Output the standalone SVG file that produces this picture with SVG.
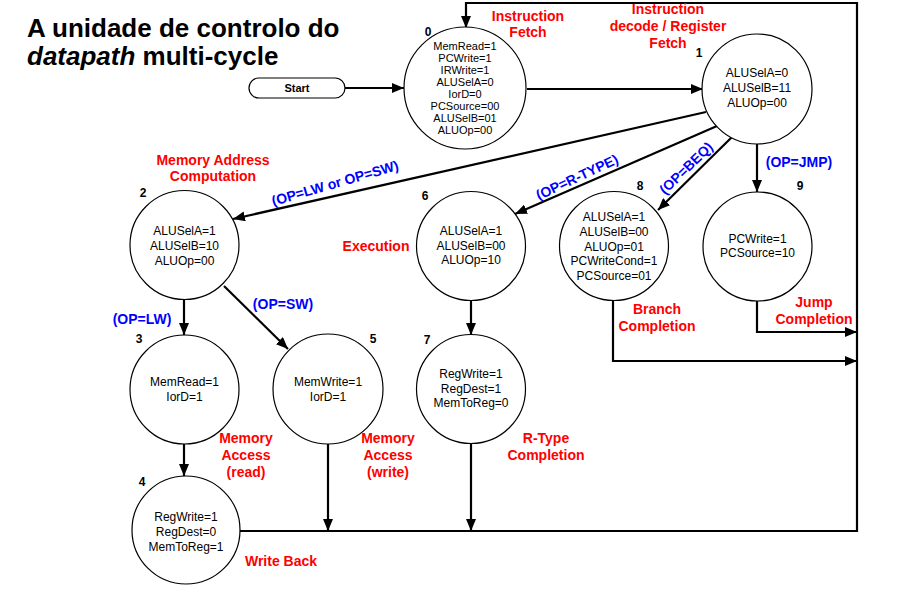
<svg xmlns="http://www.w3.org/2000/svg" width="924" height="591" viewBox="0 0 924 591">
<style>
text{font-family:"Liberation Sans",Arial,sans-serif;}
.st{font-size:12px;fill:#000;text-anchor:middle;}
.st0{font-size:11px;fill:#000;text-anchor:middle;}
.num{font-size:12px;font-weight:bold;fill:#000;text-anchor:middle;}
.red{font-size:14px;font-weight:bold;fill:#ff0000;text-anchor:middle;}
.blue{font-size:14px;font-weight:bold;fill:#0000ff;text-anchor:middle;}
.node{fill:#fff;stroke:#000;stroke-width:1.2;}
.conn{fill:none;stroke:#000;stroke-width:2.2;}
.title{font-size:26px;font-weight:bold;fill:#000;}
</style>
<defs>
<marker id="ah" viewBox="0 0 12 10" refX="12" refY="5" markerWidth="12" markerHeight="10" markerUnits="userSpaceOnUse" orient="auto">
<path d="M0,0 L12,5 L0,10 z" fill="#000"/>
</marker>
</defs>
<rect width="924" height="591" fill="#fff"/>
<g id="title">
<text class="title" x="27" y="37">A unidade de controlo do</text>
<text class="title" x="27" y="65"><tspan font-style="italic">datapath</tspan> multi-cycle</text>
</g>
<g id="connectors">
<path class="conn" d="M345,88 L404,88" marker-end="url(#ah)"/>
<path class="conn" d="M527,89 L703,89" marker-end="url(#ah)"/>
<path class="conn" d="M240,531 L857,531 L857,3 L466,3 L466,28" marker-end="url(#ah)"/>
<path class="conn" d="M706,112 L233,219" marker-end="url(#ah)"/>
<path class="conn" d="M717,126 L515,214" marker-end="url(#ah)"/>
<path class="conn" d="M732,137 L658,210" marker-end="url(#ah)"/>
<path class="conn" d="M757,144 L757,192" marker-end="url(#ah)"/>
<path class="conn" d="M184,299 L184,335" marker-end="url(#ah)"/>
<path class="conn" d="M224,286 L288,349" marker-end="url(#ah)"/>
<path class="conn" d="M471,300 L471,335" marker-end="url(#ah)"/>
<path class="conn" d="M184,444 L184,476" marker-end="url(#ah)"/>
<path class="conn" d="M328,443 L328,531" marker-end="url(#ah)"/>
<path class="conn" d="M471,443 L471,531" marker-end="url(#ah)"/>
<path class="conn" d="M613,300 L613,361 L857,361" marker-end="url(#ah)"/>
<path class="conn" d="M757,301 L757,332 L857,332" marker-end="url(#ah)"/>
<text class="blue" transform="translate(335,183) rotate(-16)" y="5">(OP=LW or OP=SW)</text>
<text class="blue" transform="translate(577,177) rotate(-25)" y="5">(OP=R-TYPE)</text>
<text class="blue" transform="translate(686,168) rotate(-44)" y="5">(OP=BEQ)</text>
<text class="blue" x="799" y="167">(OP=JMP)</text>
<text class="blue" x="142" y="324">(OP=LW)</text>
<text class="blue" x="283" y="309">(OP=SW)</text>
</g>
<g id="start">
<rect x="249" y="78" width="96" height="20" rx="10" ry="10" class="node"/>
<text class="num" x="297" y="92" style="font-size:11px">Start</text>
</g>
<g id="state0">
<circle class="node" cx="465" cy="88" r="61"/>
<text class="num" x="428" y="36">0</text>
<text class="st0" x="465" y="50">MemRead=1</text>
<text class="st0" x="465" y="62">PCWrite=1</text>
<text class="st0" x="465" y="74">IRWrite=1</text>
<text class="st0" x="465" y="86">ALUSelA=0</text>
<text class="st0" x="465" y="98">IorD=0</text>
<text class="st0" x="465" y="110">PCSource=00</text>
<text class="st0" x="465" y="122">ALUSelB=01</text>
<text class="st0" x="465" y="134">ALUOp=00</text>
<text class="red" x="528" y="21">Instruction</text>
<text class="red" x="528" y="37">Fetch</text>
</g>
<g id="state1">
<circle class="node" cx="757" cy="89" r="55"/>
<text class="num" x="699" y="57">1</text>
<text class="st" x="757" y="77">ALUSelA=0</text>
<text class="st" x="757" y="92">ALUSelB=11</text>
<text class="st" x="757" y="107">ALUOp=00</text>
<text class="red" x="668" y="14">Instruction</text>
<text class="red" x="668" y="31">decode / Register</text>
<text class="red" x="668" y="48">Fetch</text>
</g>
<g id="state2">
<circle class="node" cx="184.5" cy="245" r="54.5"/>
<text class="num" x="143" y="197">2</text>
<text class="st" x="184.5" y="235">ALUSelA=1</text>
<text class="st" x="184.5" y="250">ALUSelB=10</text>
<text class="st" x="184.5" y="265">ALUOp=00</text>
<text class="red" x="213" y="165">Memory Address</text>
<text class="red" x="213" y="181">Computation</text>
</g>
<g id="state6">
<circle class="node" cx="471" cy="246" r="54.5"/>
<text class="num" x="425" y="200">6</text>
<text class="st" x="471" y="235">ALUSelA=1</text>
<text class="st" x="471" y="250">ALUSelB=00</text>
<text class="st" x="471" y="264">ALUOp=10</text>
<text class="red" x="376" y="251">Execution</text>
</g>
<g id="state8">
<circle class="node" cx="614" cy="246" r="54.5"/>
<text class="num" x="640" y="190">8</text>
<text class="st" x="614" y="221">ALUSelA=1</text>
<text class="st" x="614" y="236">ALUSelB=00</text>
<text class="st" x="614" y="251">ALUOp=01</text>
<text class="st" x="614" y="265">PCWriteCond=1</text>
<text class="st" x="614" y="280">PCSource=01</text>
<text class="red" x="657" y="314">Branch</text>
<text class="red" x="657" y="331">Completion</text>
</g>
<g id="state9">
<circle class="node" cx="757.5" cy="246.5" r="54.5"/>
<text class="num" x="800" y="190">9</text>
<text class="st" x="757.5" y="243">PCWrite=1</text>
<text class="st" x="757.5" y="257">PCSource=10</text>
<text class="red" x="814" y="307">Jump</text>
<text class="red" x="814" y="324">Completion</text>
</g>
<g id="state3">
<circle class="node" cx="184.5" cy="389.5" r="54.5"/>
<text class="num" x="139" y="343">3</text>
<text class="st" x="184.5" y="386">MemRead=1</text>
<text class="st" x="184.5" y="401">IorD=1</text>
<text class="red" x="246" y="443">Memory</text>
<text class="red" x="246" y="460">Access</text>
<text class="red" x="246" y="477">(read)</text>
</g>
<g id="state5">
<circle class="node" cx="328" cy="389" r="55"/>
<text class="num" x="373" y="343">5</text>
<text class="st" x="328" y="386">MemWrite=1</text>
<text class="st" x="328" y="401">IorD=1</text>
<text class="red" x="388" y="443">Memory</text>
<text class="red" x="388" y="460">Access</text>
<text class="red" x="388" y="477">(write)</text>
</g>
<g id="state7">
<circle class="node" cx="471" cy="389" r="54.5"/>
<text class="num" x="427" y="344">7</text>
<text class="st" x="471" y="378">RegWrite=1</text>
<text class="st" x="471" y="393">RegDest=1</text>
<text class="st" x="471" y="407">MemToReg=0</text>
<text class="red" x="546" y="443">R-Type</text>
<text class="red" x="546" y="460">Completion</text>
</g>
<g id="state4">
<circle class="node" cx="186" cy="530" r="54"/>
<text class="num" x="142" y="486">4</text>
<text class="st" x="186" y="521">RegWrite=1</text>
<text class="st" x="186" y="536">RegDest=0</text>
<text class="st" x="186" y="551">MemToReg=1</text>
<text class="red" x="281" y="566">Write Back</text>
</g>
</svg>
